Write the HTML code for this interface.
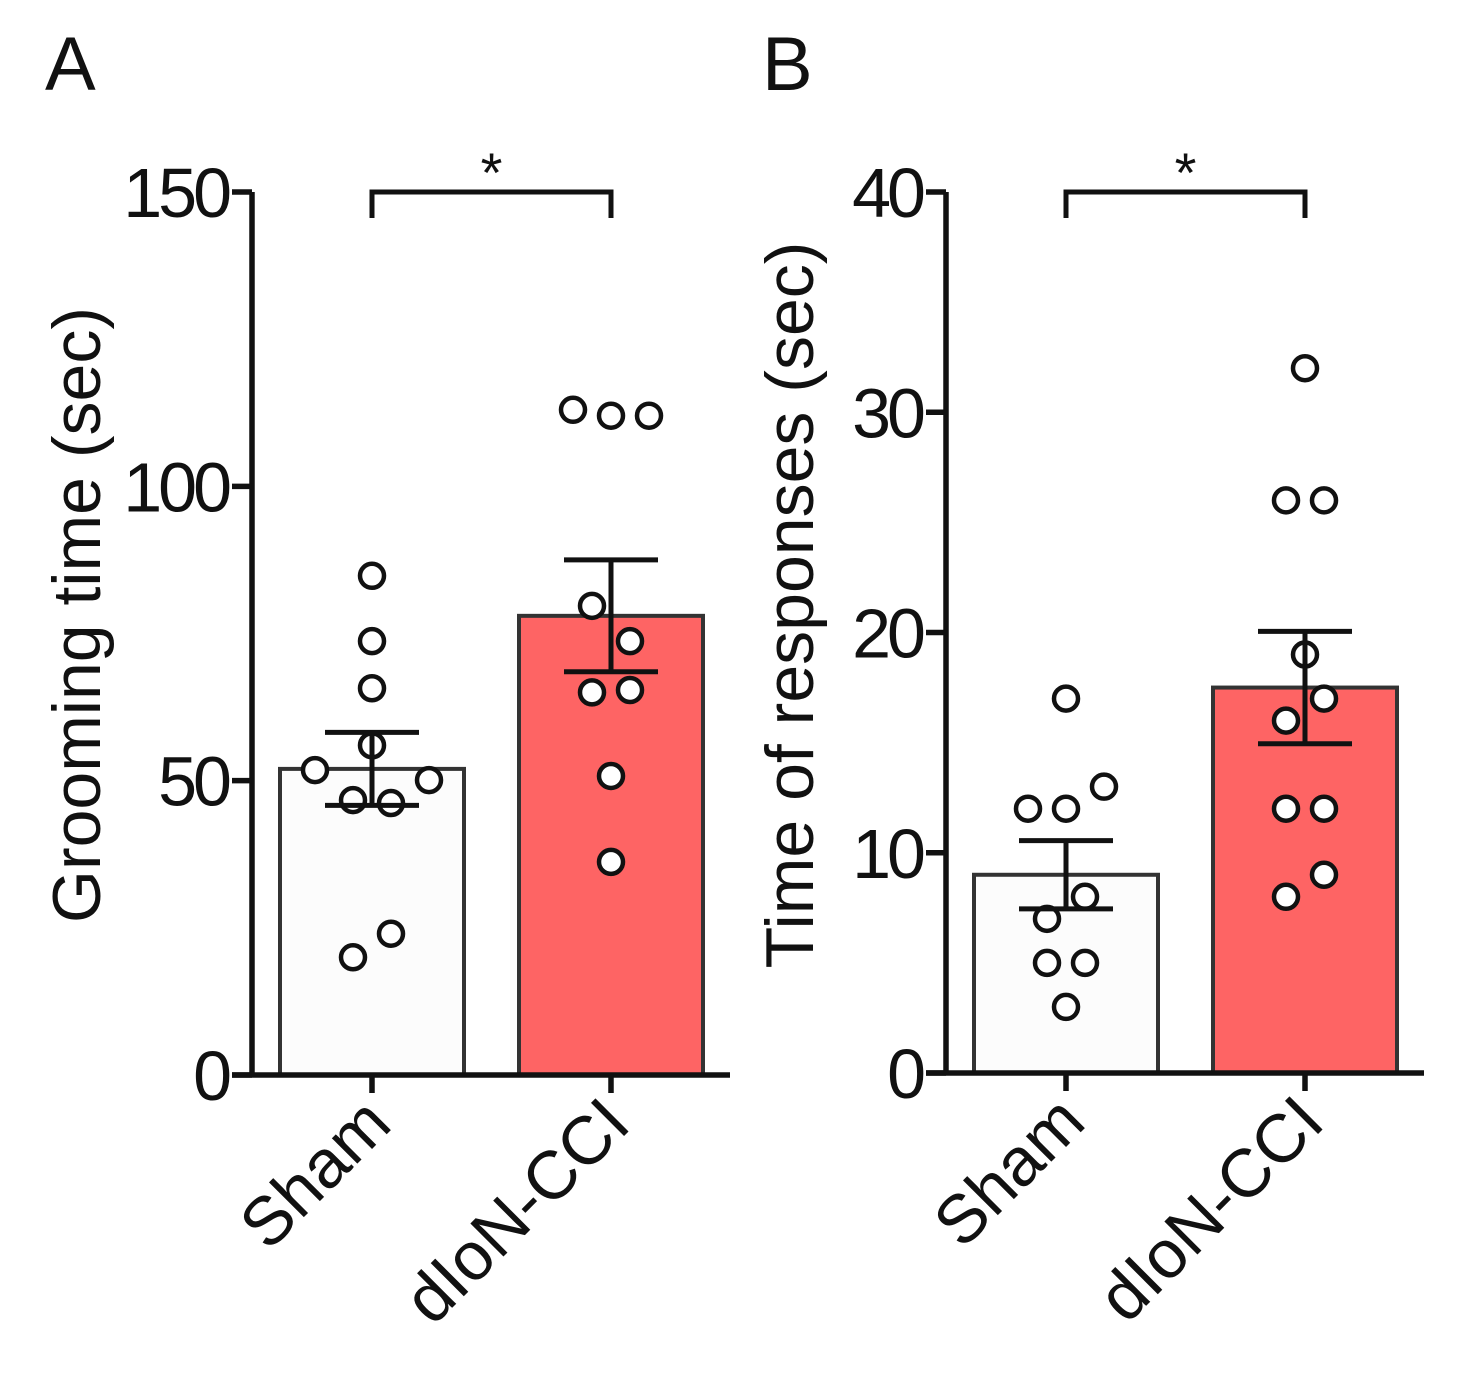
<!DOCTYPE html>
<html><head><meta charset="utf-8"><style>
body{margin:0;background:#fff}
svg{display:block;font-family:"Liberation Sans",Arial,sans-serif}
</style></head><body>
<svg id="c" width="1479" height="1374" viewBox="0 0 1479 1374"></svg>
<script>
const groups = ["Sham", "dIoN-CCI"];
const meansA = [52, 78];
const semA = [6.2, 9.5];
const ptsShamA = [[0,84.8],[0,73.7],[0,65.7],[0,56],[-1.5,51.8],[-0.5,46.7],[0.5,46.2],[1.5,50.1],[0.5,24],[-0.5,20]];
const ptsCciA = [[-1,113],[0,112],[1,112],[-0.5,79.7],[0.5,73.7],[-0.5,65],[0.5,65.4],[0,50.8],[0,36.2]];
const ticksA = [0,50,100,150];
const meansB = [9.0, 17.5];
const semB = [1.55, 2.55];
const ptsShamB = [[0,17],[1,13],[-1,12],[0,12],[0.5,8],[-0.5,7],[-0.5,5],[0.5,5],[0,3]];
const ptsCciB = [[0,32],[-0.5,26],[0.5,26],[0,19],[0.5,17],[-0.5,16],[-0.5,12],[0.5,12],[0.5,9],[-0.5,8]];
const ticksB = [0,10,20,30,40];

const NS="http://www.w3.org/2000/svg", svg=document.getElementById('c');
function el(t,a,txt){const e=document.createElementNS(NS,t);for(const k in a)e.setAttribute(k,a[k]);if(txt!=null)e.textContent=txt;svg.appendChild(e);return e;}

function panel(o){
  const y=v=>o.y0-(v/o.ymax)*(o.y0-o.ytop);
  const xs=[o.ax+120,o.ax+359];
  const fills=["#fcfcfc","#fe6464"];
  o.means.forEach((m,i)=>{
    const b=el('rect',{x:xs[i]-92,y:y(m),width:184,height:o.y0-y(m),fill:fills[i],stroke:'#333',"stroke-width":4});
    
    
  });
  [o.pS,o.pC].forEach((pts,i)=>pts.forEach(p=>{
    const c=el('circle',{cx:xs[i]+p[0]*38,cy:y(p[1]),r:12,fill:'#fff',stroke:'#111',"stroke-width":4.5});
    
    
  }));
  o.means.forEach((m,i)=>{
    const s=o.sem[i];
    const g=el('path',{d:`M${xs[i]},${y(m+s)}V${y(m-s)}M${xs[i]-47},${y(m+s)}H${xs[i]+47}M${xs[i]-47},${y(m-s)}H${xs[i]+47}`,stroke:'#111',"stroke-width":5,fill:'none'});
    
    
  });
  el('path',{d:`M${o.ax},${o.ytop}V${o.y0}M${o.ax-20},${o.y0}H${o.ax+478}`,stroke:'#111',"stroke-width":5.5,fill:'none',});
  o.ticks.forEach(t=>{
    el('line',{x1:o.ax-20,x2:o.ax,y1:y(t),y2:y(t),stroke:'#111',"stroke-width":5.5,});
    el('text',{x:o.ax-24,y:y(t)+25,"text-anchor":'end',"font-size":70,"letter-spacing":-4,fill:'#111',},t);
  });
  xs.forEach((x,i)=>{
    el('line',{x1:x,x2:x,y1:o.y0,y2:o.y0+18,stroke:'#111',"stroke-width":5.5,});
    el('text',{x:0,y:0,"text-anchor":'end',"font-size":68,fill:'#111',transform:`translate(${x+22},${o.y0+52}) rotate(-45)`,},groups[i]);
  });
  el('path',{d:`M${xs[0]},218V192H${xs[1]}V218`,stroke:'#111',"stroke-width":5,fill:'none',});
  el('text',{x:(xs[0]+xs[1])/2,y:192,"text-anchor":'middle',"font-size":56,fill:'#111',},'*');
  el('text',{x:0,y:0,"text-anchor":'middle',"font-size":68,fill:'#111',transform:`translate(${o.tx},${o.ty}) rotate(-90)`,},o.title);
  el('text',{x:o.lx,y:90,"font-size":76,fill:'#111',},o.id);
}
panel({id:'A',ax:252,y0:1075,ytop:192,ymax:150,means:meansA,sem:semA,pS:ptsShamA,pC:ptsCciA,ticks:ticksA,title:'Grooming time (sec)',tx:100,ty:615,lx:45});
panel({id:'B',ax:946,y0:1073,ytop:192,ymax:40,means:meansB,sem:semB,pS:ptsShamB,pC:ptsCciB,ticks:ticksB,title:'Time of responses (sec)',tx:813,ty:605,lx:762});
</script>
</body></html>
